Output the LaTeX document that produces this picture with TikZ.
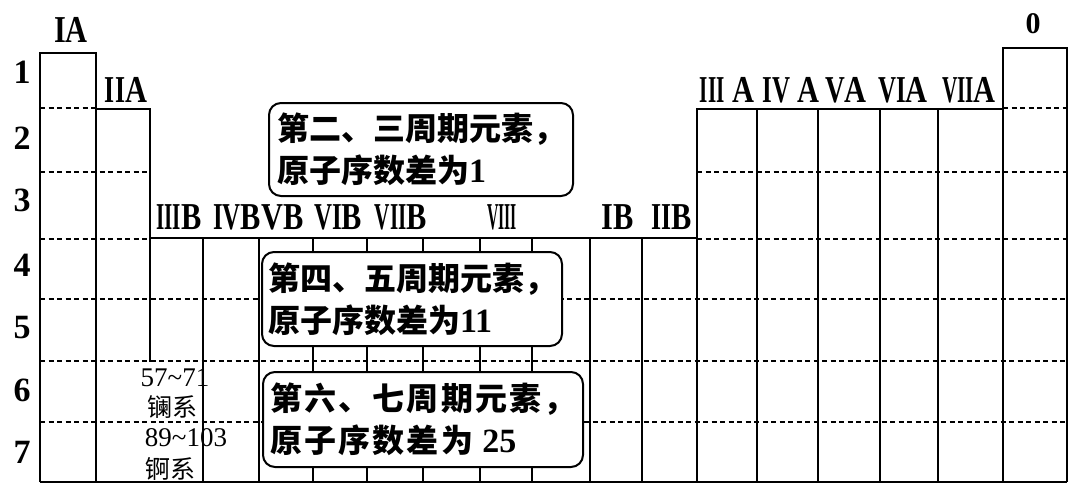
\documentclass[tikz,border=0pt]{standalone}
\usepackage{fontspec}
\setmainfont{Liberation Serif}
\newfontfamily\labfont{Liberation Serif}[FakeStretch=0.8]
\newfontfamily\cjk{Noto Sans CJK SC}
\newfontfamily\cjkwide{Noto Sans CJK SC}[LetterSpace=6.5]
\newcommand\rn[2][0.85]{\scalebox{#1}[1]{#2}}
\begin{document}
\begin{tikzpicture}[x=1pt,y=-1pt,
  cellline/.style={line width=2.3pt, line join=miter},
  dashline/.style={line width=2pt, dash pattern=on 5pt off 3.5pt},
  grp/.style={font=\labfont\fontsize{38}{38}\selectfont\bfseries, inner sep=0pt},
  rownum/.style={font=\fontsize{34}{34}\selectfont\bfseries, inner sep=0pt},
  lan/.style={font=\fontsize{27}{27}\selectfont, inner sep=0pt},
  lancjk/.style={font=\cjk\fontsize{25}{25}\selectfont, inner sep=0pt},
  note/.style={draw, line width=2pt, rounded corners=12pt, fill=white, align=left,
    font=\cjk\fontsize{32}{42}\selectfont\bfseries, inner sep=0pt}
]
\useasboundingbox (0,0) rectangle (1080,491);
% dashed period lines
\draw[dashline] (40,108) -- (96,108);
\draw[dashline] (1003,108) -- (1067,108);
\foreach \y in {172,239}{
  \draw[dashline] (40,\y) -- (150,\y);
  \draw[dashline] (697,\y) -- (1067,\y);
}
\foreach \y in {299,361,422} \draw[dashline] (40,\y) -- (1067,\y);
% solid outlines
\draw[cellline] (40,482) -- (40,53) -- (96,53) -- (96,482);
\draw[cellline] (96,109) -- (150,109) -- (150,362);
\draw[cellline] (150,238) -- (697,238);
\foreach \x in {203,259,313,367,423,480,532,590,642} \draw[cellline] (\x,238) -- (\x,482);
\draw[cellline] (697,482) -- (697,109) -- (1003,109);
\foreach \x in {757,818,880,938} \draw[cellline] (\x,109) -- (\x,482);
\draw[cellline] (1003,482) -- (1003,48) -- (1067,48) -- (1067,482);
\draw[cellline] (40,482) -- (1067,482);
% notes
\node[note, minimum width=304pt, minimum height=93pt] (n1) at (421,149.5)
  {第二、三周期元素，\\原子序数差为{\rmfamily\bfseries\fontsize{34}{42}\selectfont 1}};
\node[note, minimum width=300pt, minimum height=94pt] (n2) at (412,299)
  {第四、五周期元素，\\原子序数差为{\rmfamily\bfseries\fontsize{34}{42}\selectfont 11}};
\node[note, minimum width=320pt, minimum height=95pt, font=\cjkwide\fontsize{32}{42}\selectfont\bfseries] (n3) at (423,419.5)
  {第六、七周期元素，\\原子序数差为 {\rmfamily\bfseries\fontsize{34}{42}\selectfont 25}};
% lanthanide / actinide
\node[lan] (la1) at (175,378) {57\char`~71};
\node[lancjk] (la2) at (172,407) {镧系};
\node[lan] (ac1) at (186,438) {89\char`~103};
\node[lancjk] (ac2) at (170,469) {锕系};
% row numbers
\node[rownum] (r1) at (22,72) {1};
\node[rownum] (r2) at (22,138) {2};
\node[rownum] (r3) at (22,200) {3};
\node[rownum] (r4) at (22,265) {4};
\node[rownum] (r5) at (22,328) {5};
\node[rownum] (r6) at (22,390) {6};
\node[rownum] (r7) at (22,452) {7};
% group labels
\node[grp] (gIA) at (71,30) {\rn[1]{I}A};
\node[grp] (gIIA) at (126,90) {\rn[0.85]{II}A};
\node[grp] (gIIIB) at (179,217) {\rn[0.7]{III}B};
\node[grp] (gIVB) at (237,217) {\rn[0.82]{IV}B};
\node[grp] (gVB) at (283,217) {\rn[1]{V}B};
\node[grp] (gVIB) at (338,217) {\rn[0.82]{VI}B};
\node[grp] (gVIIB) at (401,217) {\rn[0.7]{VII}B};
\node[grp] (gVIII) at (502,217) {\rn[0.52]{VIII}};
\node[grp] (gIB) at (618,217) {\rn[1]{I}B};
\node[grp] (gIIB) at (672,217) {\rn[0.85]{II}B};
\node[grp] (gIIIA) at (727,90) {\rn[0.7]{III} A};
\node[grp] (gIVA) at (791,90) {\rn[0.82]{IV} A};
\node[grp] (gVA) at (846,90) {\rn[0.9]{V}A};
\node[grp] (gVIA) at (903,90) {\rn[0.82]{VI}A};
\node[grp] (gVIIA) at (969,90) {\rn[0.7]{VII}A};
\node[grp, font=\fontsize{30}{30}\selectfont\bfseries] (g0) at (1033,24) {0};
\end{tikzpicture}
\end{document}
